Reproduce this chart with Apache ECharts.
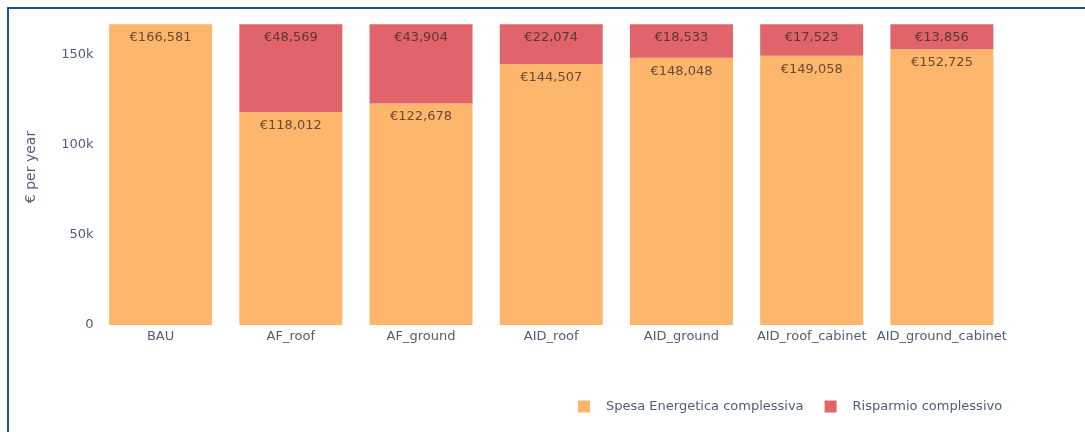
<!DOCTYPE html>
<html>
<head>
<meta charset="utf-8">
<script src="https://cdn.jsdelivr.net/npm/echarts@6/dist/echarts.min.js"></script>
<style>
  html, body { margin: 0; padding: 0; background: #ffffff; }
  #chart { width: 1085px; height: 432px; }
</style>
</head>
<body>
<div id="chart"></div>
<script>
// Scenarios compared
const categories = ['BAU', 'AF_roof', 'AF_ground', 'AID_roof', 'AID_ground', 'AID_roof_cabinet', 'AID_ground_cabinet'];
// Total yearly energy spend (€)
const spesaEnergetica = [166581, 118012, 122678, 144507, 148048, 149058, 152725];
// Total yearly savings (€), stacked on top of the spend
const risparmio = [null, 48569, 43904, 22074, 18533, 17523, 13856];
// Series names shown in the legend
const seriesNames = ['Spesa Energetica complessiva', 'Risparmio complessivo'];
// Y axis tick step
const yTickStep = 50000;

const FONT = 'DejaVu Sans';
const AXIS_TEXT = '#4f5d78';
const LABEL_TEXT = 'rgba(50,36,30,0.74)';

const euro = v => '€' + v.toLocaleString('en-US');

const chart = echarts.init(document.getElementById('chart'), null, { renderer: 'canvas' });

chart.setOption({
  animation: false,
  backgroundColor: '#ffffff',
  textStyle: { fontFamily: FONT },
  graphic: [{
    type: 'rect',
    silent: true,
    shape: { x: 8, y: 8, width: 1300, height: 700 },
    style: { fill: 'none', stroke: '#1d4f97', lineWidth: 2 }
  }],
  grid: { left: 95.5, right: 78, top: 9, bottom: 107, containLabel: false },
  legend: {
    left: 578,
    top: 400,
    padding: 0,
    itemWidth: 12,
    itemHeight: 12,
    itemGap: 21,
    icon: 'rect',
    data: seriesNames,
    textStyle: { fontFamily: FONT, fontSize: 13, color: AXIS_TEXT, padding: [0, 0, 0, 11] }
  },
  xAxis: {
    type: 'category',
    data: categories,
    axisLine: { show: false },
    axisTick: { show: false },
    axisLabel: { fontFamily: FONT, fontSize: 13, color: AXIS_TEXT, margin: 5, interval: 0 }
  },
  yAxis: {
    type: 'value',
    min: 0,
    max: 175000,
    interval: yTickStep,
    name: '€ per year',
    nameLocation: 'middle',
    nameGap: 57,
    nameTextStyle: { fontFamily: FONT, fontSize: 14, color: AXIS_TEXT },
    splitLine: { show: false },
    axisLine: { show: false },
    axisTick: { show: false },
    axisLabel: {
      fontFamily: FONT, fontSize: 13, color: AXIS_TEXT, margin: 2, padding: [4, 0, 0, 0],
      formatter: v => (v % yTickStep !== 0 ? '' : (v === 0 ? '0' : (v / 1000) + 'k'))
    }
  },
  series: [
    {
      name: seriesNames[0],
      type: 'bar',
      stack: 'total',
      barWidth: 103,
      data: spesaEnergetica,
      itemStyle: { color: '#fdb66b' },
      label: {
        show: true, position: 'insideTop', distance: 7,
        fontFamily: FONT, fontSize: 13, color: LABEL_TEXT,
        formatter: p => euro(p.value)
      }
    },
    {
      name: seriesNames[1],
      type: 'bar',
      stack: 'total',
      barWidth: 103,
      data: risparmio,
      itemStyle: { color: '#e06469' },
      label: {
        show: true, position: 'insideTop', distance: 7,
        fontFamily: FONT, fontSize: 13, color: LABEL_TEXT,
        formatter: p => (p.value == null ? '' : euro(p.value))
      }
    }
  ]
});
</script>
</body>
</html>
